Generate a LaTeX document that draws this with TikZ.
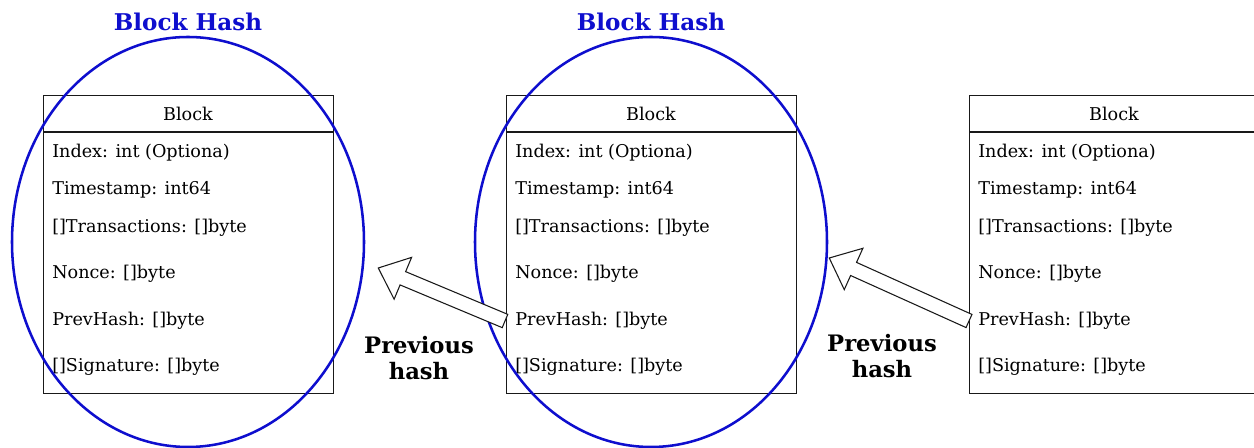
\documentclass[tikz,border=0pt]{standalone}
\usepackage{fontspec}
\setmainfont{DejaVu Serif}
\usetikzlibrary{calc,shapes.geometric}

\definecolor{hashblue}{RGB}{14,14,206}
\definecolor{boxline}{RGB}{25,25,25}

\tikzset{
  blockbox/.style={draw=boxline, line width=0.9pt, fill=none, inner sep=0pt,
    minimum width=217.5pt, minimum height=223.5pt, anchor=north west},
  blockhead/.style={inner sep=0pt, font=\fontsize{13.2}{15}\selectfont},
  field/.style={anchor=west, inner sep=0pt, font=\fontsize{13.2}{15}\selectfont},
  hashring/.style={ellipse, draw=hashblue, line width=1.9pt, inner sep=0pt,
    minimum width=264pt, minimum height=307.5pt},
  hashtitle/.style={text=hashblue, inner sep=0pt, font=\fontsize{17.3}{20}\selectfont\bfseries},
  linklabel/.style={align=center, inner sep=0pt, font=\fontsize{17}{20}\selectfont\bfseries},
  hollowarrow/.style={draw=boxline, fill=white, line width=0.8pt, line join=miter},
}

% one block record: #1 = name, #2 = top-left corner (px)
\newcommand\blockrecord[2]{%
  \node[blockbox] (#1) at (#2) {};
  \draw[boxline, line width=0.9pt] ($(#1.north west)+(0,37)$) -- ($(#1.north east)+(0,37)$);
  \node[blockhead] (#1-title) at ($(#1.north west)+(145,19)$) {Block};
  \node[field] (#1-idx)  at ($(#1.north west)+(9,58)$)  {Index: int (Optiona)};
  \node[field] (#1-ts)   at ($(#1.north west)+(9,95)$)  {Timestamp: int64};
  \node[field] (#1-tx)   at ($(#1.north west)+(9,133)$) {[]Transactions: []byte};
  \node[field] (#1-non)  at ($(#1.north west)+(9,179)$) {Nonce: []byte};
  \node[field] (#1-prev) at ($(#1.north west)+(9,226)$) {PrevHash: []byte};
  \node[field] (#1-sig)  at ($(#1.north west)+(9,272)$) {[]Signature: []byte};
}

% hollow block arrow from #1 (tail) to #2 (tip)
\newcommand\blockarrow[2]{%
  \draw[hollowarrow]
    ($(#1)!5.4pt!90:(#2)$) --
    ($($(#2)!20pt!(#1)$)!5.4pt!-90:(#1)$) --
    ($($(#2)!20pt!(#1)$)!17pt!-90:(#1)$) --
    (#2) --
    ($($(#2)!20pt!(#1)$)!17pt!90:(#1)$) --
    ($($(#2)!20pt!(#1)$)!5.4pt!90:(#1)$) --
    ($(#1)!5.4pt!-90:(#2)$) -- cycle;
}

\begin{document}
\begin{tikzpicture}[x=0.75pt, y=-0.75pt]
  \fill[white] (0,0) rectangle (1254,448);
  \useasboundingbox (0,0) rectangle (1254,448);
  \clip (0,0) rectangle (1254,448);

  % three chained block records
  \blockrecord{b1}{43,95}
  \blockrecord{b2}{506,95}
  \blockrecord{b3}{969,95}

  % hash envelopes around the first two blocks
  \node[hashring] (h1) at (188,242) {};
  \node[hashring] (h2) at (651,242) {};
  \node[hashtitle] (t1) at (188,22) {Block Hash};
  \node[hashtitle] (t2) at (651,22) {Block Hash};

  % previous-hash links
  \coordinate (a1tail) at ($(b2.north west)+(-1,226)$);
  \coordinate (a1tip)  at ($(h1.east)+(13,26)$);
  \coordinate (a2tail) at ($(b3.north west)+(0,226)$);
  \coordinate (a2tip)  at ($(h2.east)+(1,16)$);
  \blockarrow{a1tail}{a1tip}
  \blockarrow{a2tail}{a2tip}

  \node[linklabel] (l1) at (419,358) {Previous\\hash};
  \node[linklabel] (l2) at (882,356) {Previous\\hash};
\end{tikzpicture}
\end{document}
